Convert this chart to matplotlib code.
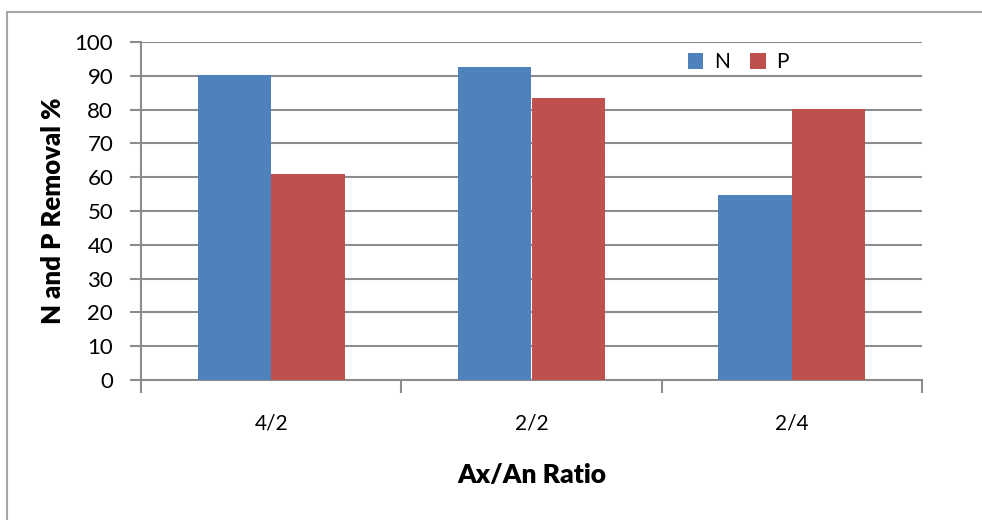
import numpy as np
import matplotlib as mpl
import matplotlib.pyplot as plt
from matplotlib.patches import Rectangle

mpl.rcParams['font.family'] = ['Lato', 'DejaVu Sans']
mpl.rcParams['font.size'] = 14

categories = ['4/2', '2/2', '2/4']
n_removal = [90.3, 92.7, 54.7]
p_removal = [60.8, 83.3, 80.2]

W, H = 982, 520
fig = plt.figure(figsize=(W / 100, H / 100), dpi=100)
ax = fig.add_axes([141 / W, 1 - 380 / H, (922 - 141) / W, (380 - 42) / H])

# outer chart frame
fig.patches.append(Rectangle((7 / W, -0.1), 1.1, 1 - 12 / H + 0.1,
                             transform=fig.transFigure, fill=False,
                             edgecolor='#a6a6a6', linewidth=1.5))

x = np.arange(len(categories))
w = 0.282
ax.bar(x - w / 2, n_removal, w, color='#4f81bd', label='N', zorder=3)
ax.bar(x + w / 2, p_removal, w, color='#c0504d', label='P', zorder=3)

ax.set_xlim(-0.5, 2.5)
ax.set_ylim(0, 100)
ax.set_yticks(np.arange(0, 101, 10))
ax.yaxis.grid(True, color='#8c8c8c', linewidth=1.5, zorder=0)
ax.set_axisbelow(True)

ax.set_xticks(x)
ax.set_xticklabels(categories)
ax.set_xticks([-0.5, 0.5, 1.5, 2.5], minor=True)
ax.tick_params(axis='x', which='major', length=0, pad=24, labelsize=15)
ax.tick_params(axis='x', which='minor', length=9, width=1.5, color='#8c8c8c', direction='out')
ax.tick_params(axis='y', length=8, width=1.5, color='#8c8c8c', direction='out', pad=12,
               labelsize=16)

for s in ['top', 'right']:
    ax.spines[s].set_visible(False)
for s in ['left', 'bottom']:
    ax.spines[s].set_color('#8c8c8c')
    ax.spines[s].set_linewidth(1.5)

ax.set_xlabel('Ax/An Ratio', fontsize=19, fontweight='heavy', labelpad=21)
ax.set_ylabel('N and P Removal %', fontsize=18.5, fontweight='heavy', labelpad=7)

ax.legend(loc='upper left', bbox_to_anchor=(0.676, 1.025), ncol=2, frameon=False,
          handlelength=0.75, handleheight=0.75, columnspacing=1.0, handletextpad=0.5,
          fontsize=15)

fig.savefig('out.png', dpi=100)
